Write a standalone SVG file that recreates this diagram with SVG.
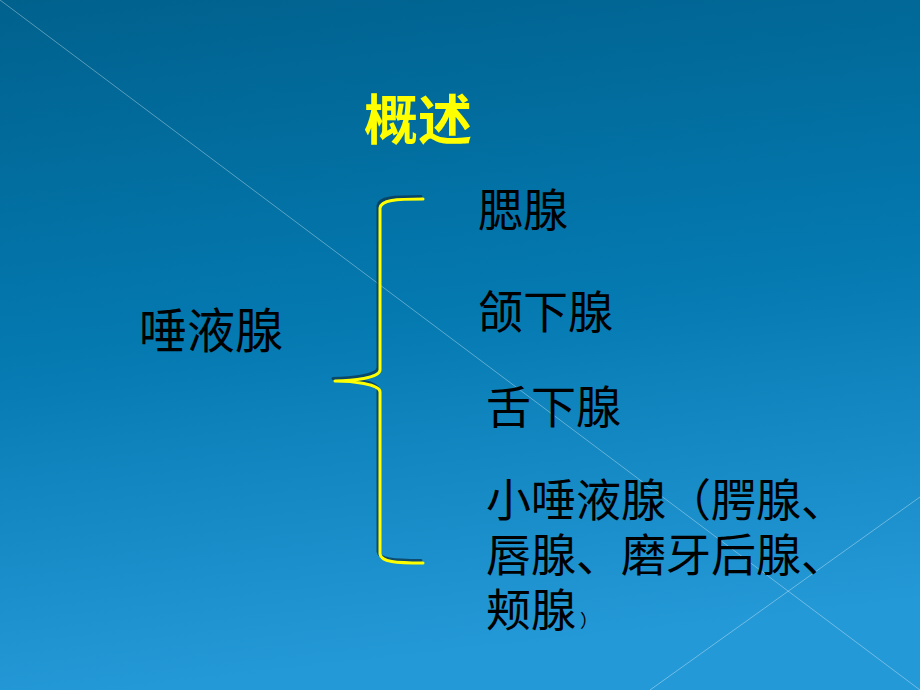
<svg xmlns="http://www.w3.org/2000/svg" width="920" height="690" viewBox="0 0 920 690">
  <defs>
    <linearGradient id="bg" x1="0" y1="0" x2="0.15" y2="1">
      <stop offset="0" stop-color="#00618d"/>
      <stop offset="0.5" stop-color="#0479b0"/>
      <stop offset="1" stop-color="#2499d7"/>
    </linearGradient>
    <style>
      .t { font-family: "Noto Sans CJK SC", "Noto Sans CJK JP", sans-serif; fill: #000000; }
      .title { font-family: "Noto Sans CJK SC", "Noto Sans CJK JP", sans-serif; fill: #ffff00; font-weight: bold; }
      .deco { stroke: #ffffff; stroke-opacity: 0.35; stroke-width: 1; fill: none; }
      .brace { fill: none; stroke: #ffff00; stroke-width: 3; stroke-linecap: round; stroke-linejoin: round; }
      .brace-shadow { fill: none; stroke: #0b3550; stroke-opacity: 0.75; stroke-width: 3; stroke-linecap: round; stroke-linejoin: round; }
    </style>
  </defs>
  <rect x="0" y="0" width="920" height="690" fill="url(#bg)"/>
  <g id="decor">
    <line class="deco" x1="0" y1="0" x2="920" y2="690"/>
    <line class="deco" x1="650" y1="690" x2="920" y2="497"/>
  </g>
  <g id="title">
    <text class="title" x="364" y="140" font-size="54">概述</text>
  </g>
  <g id="root">
    <text class="t" x="139" y="348" font-size="48">唾液腺</text>
  </g>
  <g id="connectors">
    <path class="brace-shadow" transform="translate(-2,-2.5)" d="M423,199 C396,199 381,200 380,208 L380,370 C380,378 352,381 335,381 C352,381 380,384 380,392 L380,554 C381,562 396,563 423,563"/>
    <path class="brace" d="M423,199 C396,199 381,200 380,208 L380,370 C380,378 352,381 335,381 C352,381 380,384 380,392 L380,554 C381,562 396,563 423,563"/>
  </g>
  <g id="n1">
    <text class="t" x="478" y="227" font-size="45">腮腺</text>
  </g>
  <g id="n2">
    <text class="t" x="478" y="329" font-size="45">颌下腺</text>
  </g>
  <g id="n3">
    <text class="t" x="486" y="424" font-size="45">舌下腺</text>
  </g>
  <g id="n4">
    <text class="t" x="486" y="517" font-size="45">小唾液腺（腭腺、</text>
    <text class="t" x="486" y="572" font-size="45">唇腺、磨牙后腺、</text>
    <text class="t" x="486" y="627" font-size="45">颊腺<tspan font-size="18" dx="4">）</tspan></text>
  </g>
</svg>
